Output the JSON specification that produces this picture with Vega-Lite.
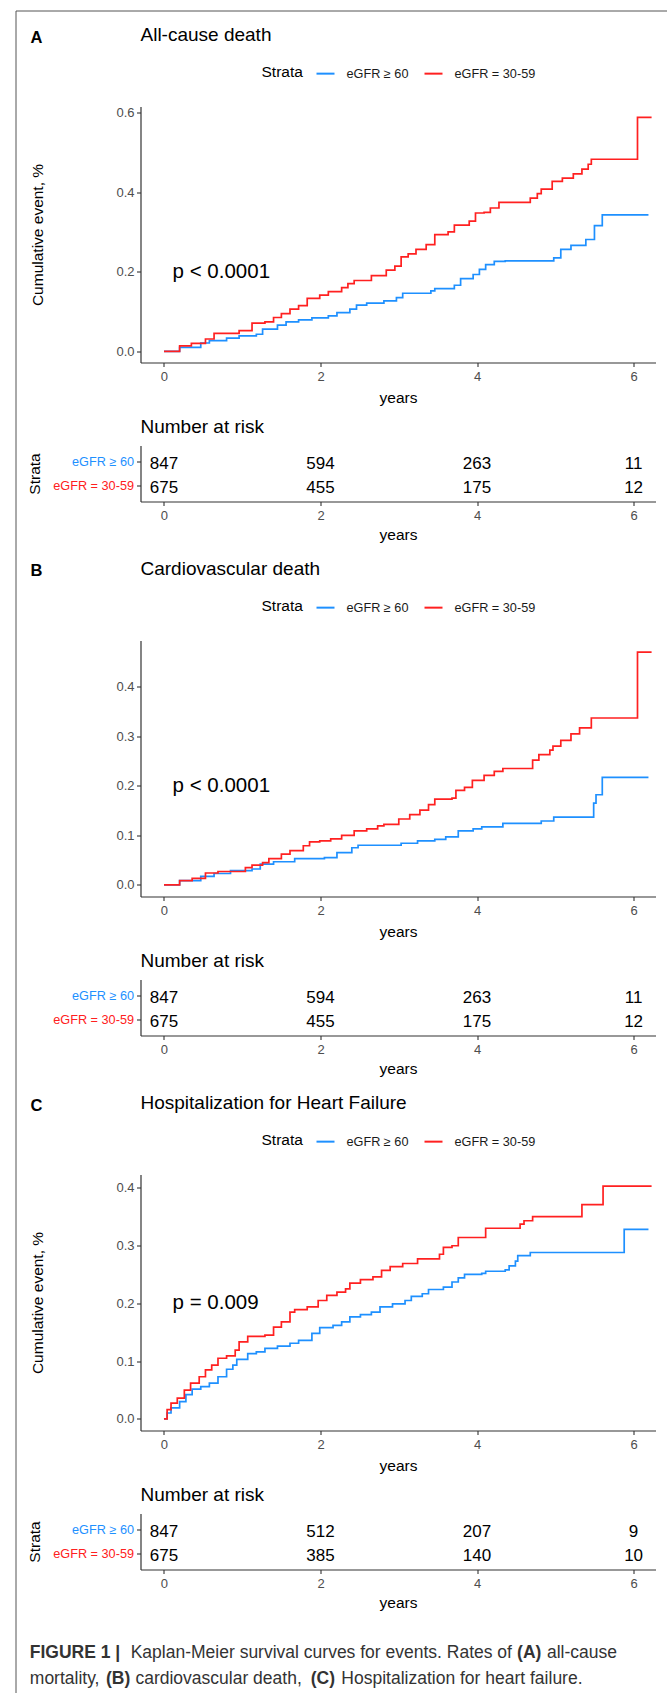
{
"$schema": "https://vega.github.io/schema/vega-lite/v6.json",
"padding": {"left": 12.5, "top": 10.5, "right": 0, "bottom": 0},
"background": "white",
"config": {
 "font": "Liberation Sans",
 "view": {"stroke": null},
 "axis": {"domainColor": "#333", "domainWidth": 1.2, "tickColor": "#333", "tickSize": 4, "tickWidth": 1.1, "labelColor": "#4D4D4D", "labelFontSize": 13, "titleFontSize": 15.5, "titleFontWeight": "normal", "titleColor": "#000", "grid": false},
 "axisX": {"labelPadding": 4, "titlePadding": 7},
 "axisY": {"labelPadding": 2.5},
 "title": {"color": "#000", "fontWeight": "normal"},
 "legend": {"layout": {"top": {"anchor": "middle"}}}
},
"datasets": {
 "kmA": [
  {"g":"eGFR ≥ 60","t":0,"v":0},{"g":"eGFR ≥ 60","t":0.2,"v":0.01},{"g":"eGFR ≥ 60","t":0.47,"v":0.021},{"g":"eGFR ≥ 60","t":0.58,"v":0.027},{"g":"eGFR ≥ 60","t":0.8,"v":0.033},{"g":"eGFR ≥ 60","t":0.96,"v":0.039},{"g":"eGFR ≥ 60","t":1.18,"v":0.043},{"g":"eGFR ≥ 60","t":1.26,"v":0.056},{"g":"eGFR ≥ 60","t":1.45,"v":0.066},{"g":"eGFR ≥ 60","t":1.56,"v":0.074},{"g":"eGFR ≥ 60","t":1.72,"v":0.079},{"g":"eGFR ≥ 60","t":1.89,"v":0.084},{"g":"eGFR ≥ 60","t":2.1,"v":0.089},{"g":"eGFR ≥ 60","t":2.21,"v":0.0975},{"g":"eGFR ≥ 60","t":2.375,"v":0.106},{"g":"eGFR ≥ 60","t":2.46,"v":0.116},{"g":"eGFR ≥ 60","t":2.59,"v":0.121},{"g":"eGFR ≥ 60","t":2.81,"v":0.127},{"g":"eGFR ≥ 60","t":2.97,"v":0.135},{"g":"eGFR ≥ 60","t":3.05,"v":0.146},{"g":"eGFR ≥ 60","t":3.41,"v":0.152},{"g":"eGFR ≥ 60","t":3.46,"v":0.1575},{"g":"eGFR ≥ 60","t":3.71,"v":0.166},{"g":"eGFR ≥ 60","t":3.79,"v":0.1825},{"g":"eGFR ≥ 60","t":3.95,"v":0.193},{"g":"eGFR ≥ 60","t":4.03,"v":0.206},{"g":"eGFR ≥ 60","t":4.11,"v":0.218},{"g":"eGFR ≥ 60","t":4.22,"v":0.226},{"g":"eGFR ≥ 60","t":4.36,"v":0.2275},{"g":"eGFR ≥ 60","t":4.98,"v":0.235},{"g":"eGFR ≥ 60","t":5.07,"v":0.256},{"g":"eGFR ≥ 60","t":5.2,"v":0.266},{"g":"eGFR ≥ 60","t":5.39,"v":0.281},{"g":"eGFR ≥ 60","t":5.5,"v":0.316},{"g":"eGFR ≥ 60","t":5.6,"v":0.343},{"g":"eGFR ≥ 60","t":6.19,"v":0.343},
  {"g":"eGFR = 30-59","t":0,"v":0},{"g":"eGFR = 30-59","t":0.2,"v":0.014},{"g":"eGFR = 30-59","t":0.35,"v":0.02},{"g":"eGFR = 30-59","t":0.53,"v":0.031},{"g":"eGFR = 30-59","t":0.64,"v":0.045},{"g":"eGFR = 30-59","t":0.96,"v":0.052},{"g":"eGFR = 30-59","t":1.125,"v":0.071},{"g":"eGFR = 30-59","t":1.29,"v":0.074},{"g":"eGFR = 30-59","t":1.4,"v":0.085},{"g":"eGFR = 30-59","t":1.5,"v":0.095},{"g":"eGFR = 30-59","t":1.61,"v":0.106},{"g":"eGFR = 30-59","t":1.72,"v":0.115},{"g":"eGFR = 30-59","t":1.83,"v":0.133},{"g":"eGFR = 30-59","t":1.99,"v":0.141},{"g":"eGFR = 30-59","t":2.1,"v":0.15},{"g":"eGFR = 30-59","t":2.27,"v":0.16},{"g":"eGFR = 30-59","t":2.35,"v":0.17},{"g":"eGFR = 30-59","t":2.43,"v":0.178},{"g":"eGFR = 30-59","t":2.65,"v":0.19},{"g":"eGFR = 30-59","t":2.84,"v":0.204},{"g":"eGFR = 30-59","t":2.95,"v":0.214},{"g":"eGFR = 30-59","t":3.03,"v":0.2375},{"g":"eGFR = 30-59","t":3.12,"v":0.245},{"g":"eGFR = 30-59","t":3.22,"v":0.256},{"g":"eGFR = 30-59","t":3.35,"v":0.268},{"g":"eGFR = 30-59","t":3.46,"v":0.293},{"g":"eGFR = 30-59","t":3.63,"v":0.3},{"g":"eGFR = 30-59","t":3.71,"v":0.317},{"g":"eGFR = 30-59","t":3.9,"v":0.327},{"g":"eGFR = 30-59","t":3.98,"v":0.3475},{"g":"eGFR = 30-59","t":4.09,"v":0.349},{"g":"eGFR = 30-59","t":4.17,"v":0.36},{"g":"eGFR = 30-59","t":4.28,"v":0.374},{"g":"eGFR = 30-59","t":4.68,"v":0.385},{"g":"eGFR = 30-59","t":4.77,"v":0.396},{"g":"eGFR = 30-59","t":4.82,"v":0.4075},{"g":"eGFR = 30-59","t":4.96,"v":0.427},{"g":"eGFR = 30-59","t":5.09,"v":0.435},{"g":"eGFR = 30-59","t":5.23,"v":0.446},{"g":"eGFR = 30-59","t":5.34,"v":0.4575},{"g":"eGFR = 30-59","t":5.42,"v":0.47},{"g":"eGFR = 30-59","t":5.46,"v":0.4825},{"g":"eGFR = 30-59","t":6.05,"v":0.5875},{"g":"eGFR = 30-59","t":6.23,"v":0.5875}
 ],
 "kmB": [
  {"g":"eGFR ≥ 60","t":0,"v":0},{"g":"eGFR ≥ 60","t":0.2,"v":0.0087},{"g":"eGFR ≥ 60","t":0.47,"v":0.017},{"g":"eGFR ≥ 60","t":0.64,"v":0.023},{"g":"eGFR ≥ 60","t":0.85,"v":0.0287},{"g":"eGFR ≥ 60","t":1.125,"v":0.032},{"g":"eGFR ≥ 60","t":1.23,"v":0.042},{"g":"eGFR ≥ 60","t":1.4,"v":0.0467},{"g":"eGFR ≥ 60","t":1.67,"v":0.053},{"g":"eGFR ≥ 60","t":2.05,"v":0.055},{"g":"eGFR ≥ 60","t":2.21,"v":0.065},{"g":"eGFR ≥ 60","t":2.4,"v":0.075},{"g":"eGFR ≥ 60","t":2.48,"v":0.08},{"g":"eGFR ≥ 60","t":3.03,"v":0.084},{"g":"eGFR ≥ 60","t":3.24,"v":0.0887},{"g":"eGFR ≥ 60","t":3.46,"v":0.092},{"g":"eGFR ≥ 60","t":3.6,"v":0.097},{"g":"eGFR ≥ 60","t":3.76,"v":0.109},{"g":"eGFR ≥ 60","t":3.95,"v":0.113},{"g":"eGFR ≥ 60","t":4.06,"v":0.117},{"g":"eGFR ≥ 60","t":4.33,"v":0.124},{"g":"eGFR ≥ 60","t":4.82,"v":0.129},{"g":"eGFR ≥ 60","t":4.98,"v":0.137},{"g":"eGFR ≥ 60","t":5.49,"v":0.165},{"g":"eGFR ≥ 60","t":5.52,"v":0.182},{"g":"eGFR ≥ 60","t":5.6,"v":0.217},{"g":"eGFR ≥ 60","t":6.19,"v":0.217},
  {"g":"eGFR = 30-59","t":0,"v":0},{"g":"eGFR = 30-59","t":0.2,"v":0.0087},{"g":"eGFR = 30-59","t":0.36,"v":0.013},{"g":"eGFR = 30-59","t":0.53,"v":0.024},{"g":"eGFR = 30-59","t":0.69,"v":0.027},{"g":"eGFR = 30-59","t":1.04,"v":0.035},{"g":"eGFR = 30-59","t":1.125,"v":0.04},{"g":"eGFR = 30-59","t":1.26,"v":0.045},{"g":"eGFR = 30-59","t":1.34,"v":0.053},{"g":"eGFR = 30-59","t":1.5,"v":0.062},{"g":"eGFR = 30-59","t":1.61,"v":0.069},{"g":"eGFR = 30-59","t":1.78,"v":0.079},{"g":"eGFR = 30-59","t":1.86,"v":0.087},{"g":"eGFR = 30-59","t":1.99,"v":0.0887},{"g":"eGFR = 30-59","t":2.13,"v":0.093},{"g":"eGFR = 30-59","t":2.27,"v":0.1},{"g":"eGFR = 30-59","t":2.43,"v":0.109},{"g":"eGFR = 30-59","t":2.59,"v":0.113},{"g":"eGFR = 30-59","t":2.73,"v":0.119},{"g":"eGFR = 30-59","t":2.81,"v":0.122},{"g":"eGFR = 30-59","t":3.0,"v":0.133},{"g":"eGFR = 30-59","t":3.14,"v":0.142},{"g":"eGFR = 30-59","t":3.27,"v":0.151},{"g":"eGFR = 30-59","t":3.38,"v":0.162},{"g":"eGFR = 30-59","t":3.46,"v":0.173},{"g":"eGFR = 30-59","t":3.68,"v":0.175},{"g":"eGFR = 30-59","t":3.73,"v":0.191},{"g":"eGFR = 30-59","t":3.84,"v":0.197},{"g":"eGFR = 30-59","t":3.94,"v":0.211},{"g":"eGFR = 30-59","t":4.09,"v":0.221},{"g":"eGFR = 30-59","t":4.22,"v":0.229},{"g":"eGFR = 30-59","t":4.33,"v":0.235},{"g":"eGFR = 30-59","t":4.71,"v":0.252},{"g":"eGFR = 30-59","t":4.79,"v":0.263},{"g":"eGFR = 30-59","t":4.93,"v":0.272},{"g":"eGFR = 30-59","t":4.97,"v":0.28},{"g":"eGFR = 30-59","t":5.07,"v":0.292},{"g":"eGFR = 30-59","t":5.2,"v":0.305},{"g":"eGFR = 30-59","t":5.31,"v":0.317},{"g":"eGFR = 30-59","t":5.46,"v":0.337},{"g":"eGFR = 30-59","t":6.05,"v":0.47},{"g":"eGFR = 30-59","t":6.23,"v":0.47}
 ],
 "kmC": [
  {"g":"eGFR ≥ 60","t":0,"v":0},{"g":"eGFR ≥ 60","t":0.04,"v":0.0103},{"g":"eGFR ≥ 60","t":0.09,"v":0.019},{"g":"eGFR ≥ 60","t":0.2,"v":0.03},{"g":"eGFR ≥ 60","t":0.28,"v":0.042},{"g":"eGFR ≥ 60","t":0.36,"v":0.0516},{"g":"eGFR ≥ 60","t":0.47,"v":0.056},{"g":"eGFR ≥ 60","t":0.58,"v":0.062},{"g":"eGFR ≥ 60","t":0.69,"v":0.073},{"g":"eGFR ≥ 60","t":0.8,"v":0.086},{"g":"eGFR ≥ 60","t":0.88,"v":0.093},{"g":"eGFR ≥ 60","t":0.93,"v":0.103},{"g":"eGFR ≥ 60","t":1.07,"v":0.113},{"g":"eGFR ≥ 60","t":1.18,"v":0.116},{"g":"eGFR ≥ 60","t":1.29,"v":0.122},{"g":"eGFR ≥ 60","t":1.45,"v":0.126},{"g":"eGFR ≥ 60","t":1.61,"v":0.131},{"g":"eGFR ≥ 60","t":1.72,"v":0.136},{"g":"eGFR ≥ 60","t":1.89,"v":0.148},{"g":"eGFR ≥ 60","t":1.99,"v":0.158},{"g":"eGFR ≥ 60","t":2.16,"v":0.162},{"g":"eGFR ≥ 60","t":2.27,"v":0.168},{"g":"eGFR ≥ 60","t":2.375,"v":0.1765},{"g":"eGFR ≥ 60","t":2.51,"v":0.1805},{"g":"eGFR ≥ 60","t":2.65,"v":0.185},{"g":"eGFR ≥ 60","t":2.76,"v":0.194},{"g":"eGFR ≥ 60","t":2.92,"v":0.199},{"g":"eGFR ≥ 60","t":3.08,"v":0.205},{"g":"eGFR ≥ 60","t":3.16,"v":0.212},{"g":"eGFR ≥ 60","t":3.3,"v":0.2166},{"g":"eGFR ≥ 60","t":3.38,"v":0.224},{"g":"eGFR ≥ 60","t":3.57,"v":0.228},{"g":"eGFR ≥ 60","t":3.68,"v":0.237},{"g":"eGFR ≥ 60","t":3.76,"v":0.244},{"g":"eGFR ≥ 60","t":3.84,"v":0.25},{"g":"eGFR ≥ 60","t":4.06,"v":0.252},{"g":"eGFR ≥ 60","t":4.11,"v":0.2556},{"g":"eGFR ≥ 60","t":4.36,"v":0.258},{"g":"eGFR ≥ 60","t":4.41,"v":0.265},{"g":"eGFR ≥ 60","t":4.49,"v":0.273},{"g":"eGFR ≥ 60","t":4.52,"v":0.2825},{"g":"eGFR ≥ 60","t":4.68,"v":0.288},{"g":"eGFR ≥ 60","t":5.88,"v":0.328},{"g":"eGFR ≥ 60","t":6.19,"v":0.328},
  {"g":"eGFR = 30-59","t":0,"v":0},{"g":"eGFR = 30-59","t":0.04,"v":0.016},{"g":"eGFR = 30-59","t":0.09,"v":0.0275},{"g":"eGFR = 30-59","t":0.17,"v":0.036},{"g":"eGFR = 30-59","t":0.26,"v":0.05},{"g":"eGFR = 30-59","t":0.34,"v":0.062},{"g":"eGFR = 30-59","t":0.45,"v":0.073},{"g":"eGFR = 30-59","t":0.53,"v":0.085},{"g":"eGFR = 30-59","t":0.61,"v":0.093},{"g":"eGFR = 30-59","t":0.69,"v":0.105},{"g":"eGFR = 30-59","t":0.8,"v":0.109},{"g":"eGFR = 30-59","t":0.91,"v":0.119},{"g":"eGFR = 30-59","t":0.96,"v":0.1335},{"g":"eGFR = 30-59","t":1.07,"v":0.143},{"g":"eGFR = 30-59","t":1.29,"v":0.145},{"g":"eGFR = 30-59","t":1.4,"v":0.159},{"g":"eGFR = 30-59","t":1.5,"v":0.168},{"g":"eGFR = 30-59","t":1.61,"v":0.185},{"g":"eGFR = 30-59","t":1.67,"v":0.189},{"g":"eGFR = 30-59","t":1.83,"v":0.194},{"g":"eGFR = 30-59","t":1.97,"v":0.205},{"g":"eGFR = 30-59","t":2.08,"v":0.214},{"g":"eGFR = 30-59","t":2.21,"v":0.2195},{"g":"eGFR = 30-59","t":2.32,"v":0.225},{"g":"eGFR = 30-59","t":2.375,"v":0.235},{"g":"eGFR = 30-59","t":2.51,"v":0.241},{"g":"eGFR = 30-59","t":2.67,"v":0.246},{"g":"eGFR = 30-59","t":2.78,"v":0.257},{"g":"eGFR = 30-59","t":2.89,"v":0.2635},{"g":"eGFR = 30-59","t":3.05,"v":0.269},{"g":"eGFR = 30-59","t":3.24,"v":0.277},{"g":"eGFR = 30-59","t":3.52,"v":0.285},{"g":"eGFR = 30-59","t":3.57,"v":0.297},{"g":"eGFR = 30-59","t":3.68,"v":0.2997},{"g":"eGFR = 30-59","t":3.76,"v":0.314},{"g":"eGFR = 30-59","t":4.11,"v":0.33},{"g":"eGFR = 30-59","t":4.55,"v":0.337},{"g":"eGFR = 30-59","t":4.6,"v":0.343},{"g":"eGFR = 30-59","t":4.71,"v":0.35},{"g":"eGFR = 30-59","t":5.34,"v":0.371},{"g":"eGFR = 30-59","t":5.61,"v":0.403},{"g":"eGFR = 30-59","t":6.23,"v":0.403}
 ],
 "riskA": [
  {"g":"eGFR ≥ 60","t":0,"n":847},{"g":"eGFR ≥ 60","t":2,"n":594},{"g":"eGFR ≥ 60","t":4,"n":263},{"g":"eGFR ≥ 60","t":6,"n":11},
  {"g":"eGFR = 30-59","t":0,"n":675},{"g":"eGFR = 30-59","t":2,"n":455},{"g":"eGFR = 30-59","t":4,"n":175},{"g":"eGFR = 30-59","t":6,"n":12}
 ],
 "riskB": [
  {"g":"eGFR ≥ 60","t":0,"n":847},{"g":"eGFR ≥ 60","t":2,"n":594},{"g":"eGFR ≥ 60","t":4,"n":263},{"g":"eGFR ≥ 60","t":6,"n":11},
  {"g":"eGFR = 30-59","t":0,"n":675},{"g":"eGFR = 30-59","t":2,"n":455},{"g":"eGFR = 30-59","t":4,"n":175},{"g":"eGFR = 30-59","t":6,"n":12}
 ],
 "riskC": [
  {"g":"eGFR ≥ 60","t":0,"n":847},{"g":"eGFR ≥ 60","t":2,"n":512},{"g":"eGFR ≥ 60","t":4,"n":207},{"g":"eGFR ≥ 60","t":6,"n":9},
  {"g":"eGFR = 30-59","t":0,"n":675},{"g":"eGFR = 30-59","t":2,"n":385},{"g":"eGFR = 30-59","t":4,"n":140},{"g":"eGFR = 30-59","t":6,"n":10}
 ]
},
"vconcat": [
 {
  "width": 515, "height": 1,
  "data": {"values": [{}]},
  "mark": {"type": "point", "opacity": 0},
  "encoding": {
   "x": {"datum": 0, "type": "quantitative", "scale": {"domain": [0, 1], "range": [-125, 527]}, "axis": {"orient": "top", "ticks": false, "labels": false, "title": null, "grid": false, "domainColor": "#555", "domainWidth": 1}},
   "y": {"datum": 0, "type": "quantitative", "scale": {"domain": [0, 1], "range": [1682, 0]}, "axis": {"orient": "left", "offset": 125, "ticks": false, "labels": false, "title": null, "grid": false, "domainColor": "#555", "domainWidth": 1}}
  }
 },
 {"width": 515, "height": 95, "data": {"values": []}, "mark": "point",
  "title": {"text": "A", "anchor": "start", "frame": "group", "dx": -110, "offset": 0, "dy": 47.8, "fontSize": 16.5, "fontWeight": "bold", "baseline": "alphabetic"}},
 {
  "width": 515, "height": 256,
  "title": {"text": "All-cause death", "anchor": "start", "frame": "group", "fontSize": 19, "baseline": "alphabetic", "offset": 3.5},
  "layer": [
   {"data": {"name": "kmA"},
    "mark": {"type": "line", "interpolate": "step-after", "strokeWidth": 1.7},
    "encoding": {
     "x": {"field": "t", "type": "quantitative", "scale": {"domain": [-0.3, 6.28], "nice": false, "zero": false}, "axis": {"values": [0, 2, 4, 6], "title": "years", "format": "d"}},
     "y": {"field": "v", "type": "quantitative", "scale": {"domain": [-0.028, 0.615], "nice": false, "zero": false}, "axis": {"values": [0, 0.2, 0.4, 0.6], "format": ".1f", "title": "Cumulative event, %", "titlePadding": 70}},
     "color": {"field": "g", "type": "nominal", "scale": {"domain": ["eGFR ≥ 60", "eGFR = 30-59"], "range": ["#1E90FF", "#FF2020"]}, "legend": {"orient": "top", "direction": "horizontal", "title": "Strata", "titleOrient": "left", "titleFontSize": 15.5, "titleFontWeight": "normal", "titleColor": "#000", "labelFontSize": 12.7, "labelColor": "#1a1a1a", "symbolType": "stroke", "symbolStrokeWidth": 2, "symbolSize": 324, "labelOffset": 11, "columnPadding": 12, "titlePadding": 12, "offset": 26.5}}
    }},
   {"data": {"values": [{"label": "p < 0.0001"}]},
    "mark": {"type": "text", "align": "left", "baseline": "middle", "fontSize": 20.5, "color": "#000"},
    "encoding": {"x": {"datum": 0.11, "type": "quantitative"}, "y": {"datum": 0.2, "type": "quantitative"}, "text": {"field": "label"}}}
  ]
 },
 {"width": 515, "height": 83, "data": {"values": []}, "mark": "point"},
 {
  "width": 515, "height": 56,
  "title": {"text": "Number at risk", "anchor": "start", "frame": "group", "fontSize": 19, "baseline": "alphabetic", "offset": -6},
  "data": {"name": "riskA"},
  "mark": {"type": "text", "fontSize": 17, "color": "#000", "baseline": "middle", "align": "center", "dy": 2.5},
  "encoding": {
   "x": {"field": "t", "type": "quantitative", "scale": {"domain": [-0.3, 6.28], "nice": false, "zero": false}, "axis": {"values": [0, 2, 4, 6], "title": "years", "format": "d", "titlePadding": 5}},
   "y": {"field": "g", "type": "nominal", "scale": {"type": "point", "domain": ["eGFR ≥ 60", "eGFR = 30-59"], "padding": 0.64}, "axis": {"title": "Strata", "titlePadding": 10, "labelPadding": 3, "labelFontSize": 12.7, "labelColor": {"condition": {"test": "datum.value === 'eGFR ≥ 60'", "value": "#1E90FF"}, "value": "#FF2020"}}},
   "text": {"field": "n", "type": "quantitative"}
  }
 },
 {"width": 515, "height": 139, "data": {"values": []}, "mark": "point",
  "title": {"text": "B", "anchor": "start", "frame": "group", "dx": -110, "offset": 0, "dy": 90.8, "fontSize": 16.5, "fontWeight": "bold", "baseline": "alphabetic"}},
 {
  "width": 515, "height": 256,
  "title": {"text": "Cardiovascular death", "anchor": "start", "frame": "group", "fontSize": 19, "baseline": "alphabetic", "offset": 3.5},
  "layer": [
   {"data": {"name": "kmB"},
    "mark": {"type": "line", "interpolate": "step-after", "strokeWidth": 1.7},
    "encoding": {
     "x": {"field": "t", "type": "quantitative", "scale": {"domain": [-0.3, 6.28], "nice": false, "zero": false}, "axis": {"values": [0, 2, 4, 6], "title": "years", "format": "d"}},
     "y": {"field": "v", "type": "quantitative", "scale": {"domain": [-0.0235, 0.4935], "nice": false, "zero": false}, "axis": {"values": [0, 0.1, 0.2, 0.3, 0.4], "format": ".1f", "title": null}},
     "color": {"field": "g", "type": "nominal", "scale": {"domain": ["eGFR ≥ 60", "eGFR = 30-59"], "range": ["#1E90FF", "#FF2020"]}, "legend": {"orient": "top", "direction": "horizontal", "title": "Strata", "titleOrient": "left", "titleFontSize": 15.5, "titleFontWeight": "normal", "titleColor": "#000", "labelFontSize": 12.7, "labelColor": "#1a1a1a", "symbolType": "stroke", "symbolStrokeWidth": 2, "symbolSize": 324, "labelOffset": 11, "columnPadding": 12, "titlePadding": 12, "offset": 26.5}}
    }},
   {"data": {"values": [{"label": "p < 0.0001"}]},
    "mark": {"type": "text", "align": "left", "baseline": "middle", "fontSize": 20.5, "color": "#000"},
    "encoding": {"x": {"datum": 0.11, "type": "quantitative"}, "y": {"datum": 0.2, "type": "quantitative"}, "text": {"field": "label"}}}
  ]
 },
 {"width": 515, "height": 83, "data": {"values": []}, "mark": "point"},
 {
  "width": 515, "height": 56,
  "title": {"text": "Number at risk", "anchor": "start", "frame": "group", "fontSize": 19, "baseline": "alphabetic", "offset": -6},
  "data": {"name": "riskB"},
  "mark": {"type": "text", "fontSize": 17, "color": "#000", "baseline": "middle", "align": "center", "dy": 2.5},
  "encoding": {
   "x": {"field": "t", "type": "quantitative", "scale": {"domain": [-0.3, 6.28], "nice": false, "zero": false}, "axis": {"values": [0, 2, 4, 6], "title": "years", "format": "d", "titlePadding": 5}},
   "y": {"field": "g", "type": "nominal", "scale": {"type": "point", "domain": ["eGFR ≥ 60", "eGFR = 30-59"], "padding": 0.64}, "axis": {"title": null, "labelPadding": 3, "labelFontSize": 12.7, "labelColor": {"condition": {"test": "datum.value === 'eGFR ≥ 60'", "value": "#1E90FF"}, "value": "#FF2020"}}},
   "text": {"field": "n", "type": "quantitative"}
  }
 },
 {"width": 515, "height": 139, "data": {"values": []}, "mark": "point",
  "title": {"text": "C", "anchor": "start", "frame": "group", "dx": -110, "offset": 0, "dy": 91.8, "fontSize": 16.5, "fontWeight": "bold", "baseline": "alphabetic"}},
 {
  "width": 515, "height": 256,
  "title": {"text": "Hospitalization for Heart Failure", "anchor": "start", "frame": "group", "fontSize": 19, "baseline": "alphabetic", "offset": 3.5},
  "layer": [
   {"data": {"name": "kmC"},
    "mark": {"type": "line", "interpolate": "step-after", "strokeWidth": 1.7},
    "encoding": {
     "x": {"field": "t", "type": "quantitative", "scale": {"domain": [-0.3, 6.28], "nice": false, "zero": false}, "axis": {"values": [0, 2, 4, 6], "title": "years", "format": "d"}},
     "y": {"field": "v", "type": "quantitative", "scale": {"domain": [-0.02, 0.423], "nice": false, "zero": false}, "axis": {"values": [0, 0.1, 0.2, 0.3, 0.4], "format": ".1f", "title": "Cumulative event, %", "titlePadding": 70}},
     "color": {"field": "g", "type": "nominal", "scale": {"domain": ["eGFR ≥ 60", "eGFR = 30-59"], "range": ["#1E90FF", "#FF2020"]}, "legend": {"orient": "top", "direction": "horizontal", "title": "Strata", "titleOrient": "left", "titleFontSize": 15.5, "titleFontWeight": "normal", "titleColor": "#000", "labelFontSize": 12.7, "labelColor": "#1a1a1a", "symbolType": "stroke", "symbolStrokeWidth": 2, "symbolSize": 324, "labelOffset": 11, "columnPadding": 12, "titlePadding": 12, "offset": 26.5}}
    }},
   {"data": {"values": [{"label": "p = 0.009"}]},
    "mark": {"type": "text", "align": "left", "baseline": "middle", "fontSize": 20.5, "color": "#000"},
    "encoding": {"x": {"datum": 0.11, "type": "quantitative"}, "y": {"datum": 0.2, "type": "quantitative"}, "text": {"field": "label"}}}
  ]
 },
 {"width": 515, "height": 83, "data": {"values": []}, "mark": "point"},
 {
  "width": 515, "height": 56,
  "title": {"text": "Number at risk", "anchor": "start", "frame": "group", "fontSize": 19, "baseline": "alphabetic", "offset": -6},
  "data": {"name": "riskC"},
  "mark": {"type": "text", "fontSize": 17, "color": "#000", "baseline": "middle", "align": "center", "dy": 2.5},
  "encoding": {
   "x": {"field": "t", "type": "quantitative", "scale": {"domain": [-0.3, 6.28], "nice": false, "zero": false}, "axis": {"values": [0, 2, 4, 6], "title": "years", "format": "d", "titlePadding": 5}},
   "y": {"field": "g", "type": "nominal", "scale": {"type": "point", "domain": ["eGFR ≥ 60", "eGFR = 30-59"], "padding": 0.64}, "axis": {"title": "Strata", "titlePadding": 10, "labelPadding": 3, "labelFontSize": 12.7, "labelColor": {"condition": {"test": "datum.value === 'eGFR ≥ 60'", "value": "#1E90FF"}, "value": "#FF2020"}}},
   "text": {"field": "n", "type": "quantitative"}
  }
 },
 {"width": 515, "height": 1, "data": {"values": []}, "mark": "point",
  "title": {"text": "FIGURE 1 |", "anchor": "start", "frame": "group", "dx": -110.7, "offset": 0, "dy": 105.8, "fontSize": 17.5, "fontWeight": "bold", "baseline": "alphabetic", "color": "#333"}},
 {"width": 515, "height": 1, "data": {"values": []}, "mark": "point",
  "title": {"text": "Kaplan-Meier survival curves for events. Rates of", "anchor": "start", "frame": "group", "dx": -9.8, "offset": 0, "dy": 104.8, "fontSize": 17.5, "baseline": "alphabetic", "color": "#333"}},
 {"width": 515, "height": 1, "data": {"values": []}, "mark": "point",
  "title": {"text": "(A)", "anchor": "start", "frame": "group", "dx": 376.6, "offset": 0, "dy": 103.8, "fontSize": 17.5, "fontWeight": "bold", "baseline": "alphabetic", "color": "#333"}},
 {"width": 515, "height": 1, "data": {"values": []}, "mark": "point",
  "title": {"text": "all-cause", "anchor": "start", "frame": "group", "dx": 406.4, "offset": 0, "dy": 102.8, "fontSize": 17.5, "baseline": "alphabetic", "color": "#333"}},
 {"width": 515, "height": 1, "data": {"values": []}, "mark": "point",
  "title": {"text": "mortality,", "anchor": "start", "frame": "group", "dx": -110.7, "offset": 0, "dy": 127.8, "fontSize": 17.5, "baseline": "alphabetic", "color": "#333"}},
 {"width": 515, "height": 1, "data": {"values": []}, "mark": "point",
  "title": {"text": "(B)", "anchor": "start", "frame": "group", "dx": -34.5, "offset": 0, "dy": 126.8, "fontSize": 17.5, "fontWeight": "bold", "baseline": "alphabetic", "color": "#333"}},
 {"width": 515, "height": 1, "data": {"values": []}, "mark": "point",
  "title": {"text": "cardiovascular death,", "anchor": "start", "frame": "group", "dx": -5.1, "offset": 0, "dy": 125.8, "fontSize": 17.5, "baseline": "alphabetic", "color": "#333"}},
 {"width": 515, "height": 1, "data": {"values": []}, "mark": "point",
  "title": {"text": "(C)", "anchor": "start", "frame": "group", "dx": 170.2, "offset": 0, "dy": 124.8, "fontSize": 17.5, "fontWeight": "bold", "baseline": "alphabetic", "color": "#333"}},
 {"width": 515, "height": 1, "data": {"values": []}, "mark": "point",
  "title": {"text": "Hospitalization for heart failure.", "anchor": "start", "frame": "group", "dx": 200.8, "offset": 0, "dy": 123.8, "fontSize": 17.5, "baseline": "alphabetic", "color": "#333"}}
],
"spacing": 0,
"bounds": "flush",
"resolve": {"scale": {"color": "independent"}, "legend": {"color": "independent"}}
}
